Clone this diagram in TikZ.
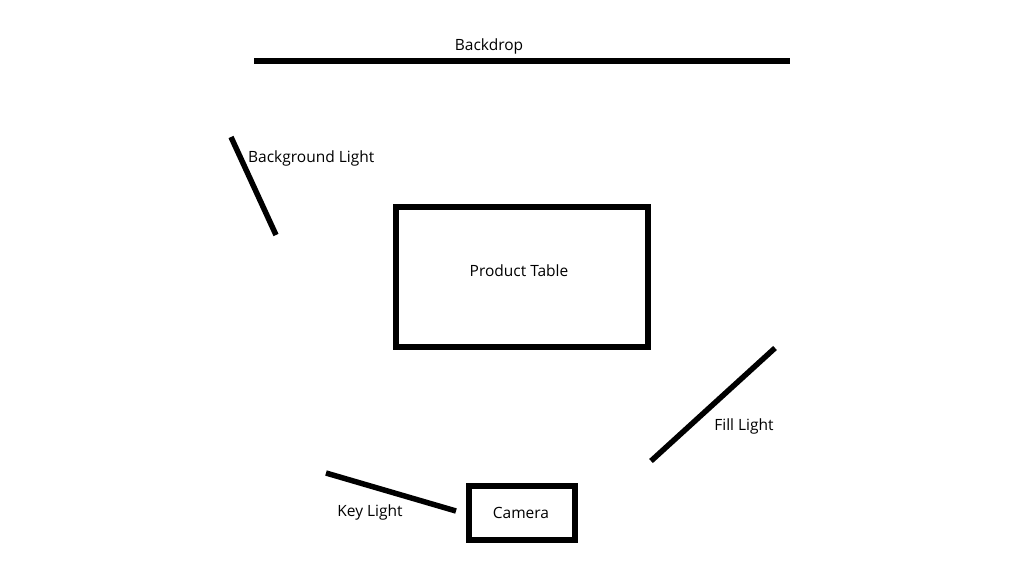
\documentclass[tikz,border=0pt]{standalone}
\usepackage{fontspec}
\setmainfont{Open Sans}
\begin{document}
\begin{tikzpicture}[x=1pt,y=-1pt,
  bar/.style={line width=5.5pt},
  box/.style={line width=6pt},
  lbl/.style={font=\fontsize{15.5}{18}\selectfont, inner sep=0pt, yshift=-1.5pt}]
\useasboundingbox[fill=white] (0,0) rectangle (1024,571);
% backdrop
\coordinate (bd1) at (254,61);
\coordinate (bd2) at (790,61);
\draw[bar] (bd1) -- (bd2);
\node[lbl] (bdl) at (489,45) {Backdrop};
% background light
\coordinate (bg1) at (231,137);
\coordinate (bg2) at (276,235);
\draw[bar] (bg1) -- (bg2);
\node[lbl, anchor=west] (bgl) at (248,157) {Background Light};
% product table
\coordinate (t1) at (396,207);
\coordinate (t2) at (648,347);
\draw[box] (t1) rectangle (t2);
\node[lbl] (tl) at (519,269) {Product Table};
% fill light
\coordinate (f1) at (775,348);
\coordinate (f2) at (651,461);
\draw[bar] (f1) -- (f2);
\node[lbl] (fl) at (744,425) {Fill Light};
% key light
\coordinate (k1) at (326,473);
\coordinate (k2) at (456,511);
\draw[bar] (k1) -- (k2);
\node[lbl] (kl) at (370,511) {Key Light};
% camera
\coordinate (c1) at (469,486);
\coordinate (c2) at (575,540);
\draw[box] (c1) rectangle (c2);
\node[lbl] (cl) at (521,511) {Camera};
\end{tikzpicture}
\end{document}
